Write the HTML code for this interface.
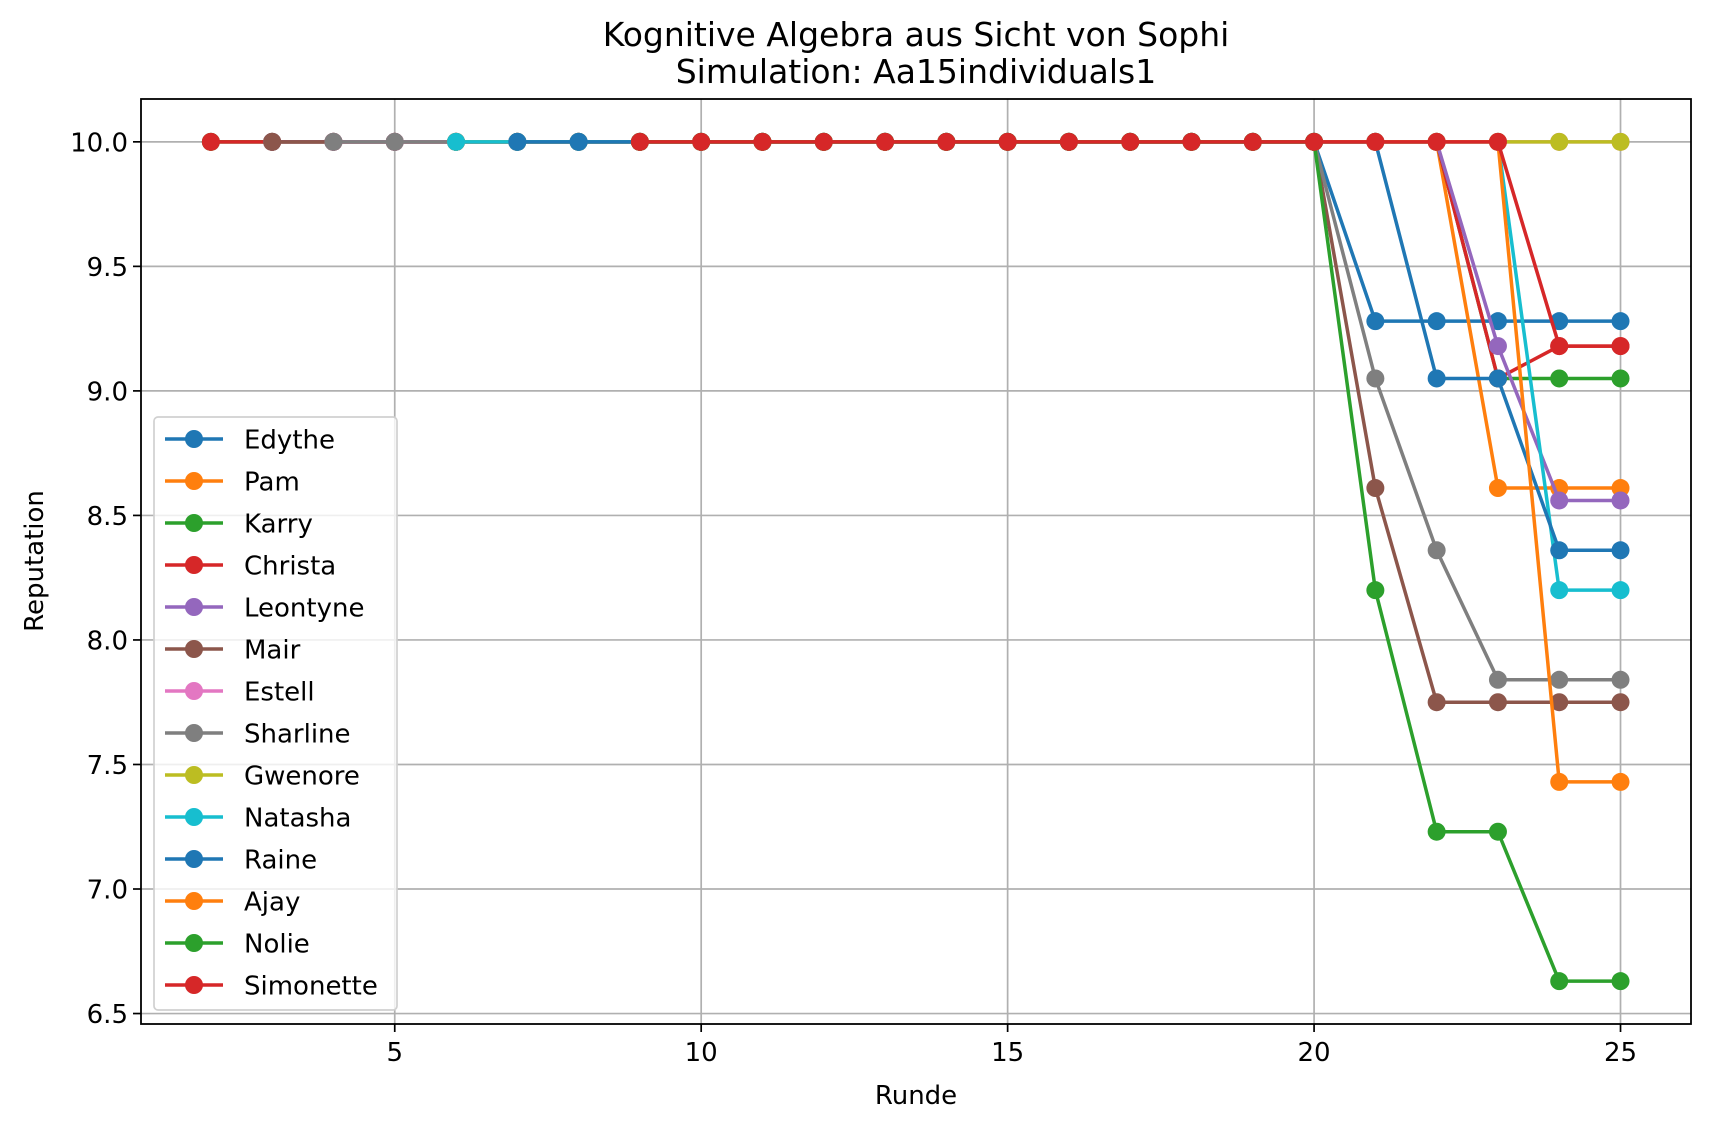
<!DOCTYPE html>
<html><head><meta charset="utf-8">
<style>
html,body{margin:0;padding:0;background:#fff;}
svg{display:block;font-family:"DejaVu Sans","Liberation Sans",sans-serif;}
</style></head>
<body>
<svg id="chart" width="1710" height="1131" viewBox="0 0 1710 1131" xmlns="http://www.w3.org/2000/svg">
<rect width="1710" height="1131" fill="#fff"/>
<text x="916" y="46" font-size="33" text-anchor="middle">Kognitive Algebra aus Sicht von Sophi</text>
<text x="916" y="83" font-size="33" text-anchor="middle">Simulation: Aa15individuals1</text>
<g id="grid"></g>
<g id="series"></g>
<rect x="141" y="99" width="1550" height="925" fill="none" stroke="#000" stroke-width="1.8"/>
<g id="ticks"></g>
<text x="916" y="1104" font-size="26" text-anchor="middle">Runde</text>
<text transform="translate(43,561) rotate(-90)" font-size="26" text-anchor="middle">Reputation</text>
<g id="legend"></g>
</svg>
<script>
const names = ["Edythe","Pam","Karry","Christa","Leontyne","Mair","Estell","Sharline","Gwenore","Natasha","Raine","Ajay","Nolie","Simonette"];
const colors = ["#1f77b4","#ff7f0e","#2ca02c","#d62728","#9467bd","#8c564b","#e377c2","#7f7f7f","#bcbd22","#17becf","#1f77b4","#ff7f0e","#2ca02c","#d62728"];
const startRound = [2,2,2,2,3,3,4,4,6,6,7,9,9,9];
// values for rounds 20..25 (before round 20 all are 10)
const tailEdythe = [10,9.28,9.28,9.28,9.28,9.28];
const tailPam = [10,10,10,8.61,8.61,8.61];
const tailKarry = [10,10,10,9.05,9.05,9.05];
const tailChrista = [10,10,10,9.05,9.18,9.18];
const tailLeontyne = [10,10,10,9.18,8.56,8.56];
const tailMair = [10,8.61,7.75,7.75,7.75,7.75];
const tailEstell = [10,10,10,10,10,10];
const tailSharline = [10,9.05,8.36,7.84,7.84,7.84];
const tailGwenore = [10,10,10,10,10,10];
const tailNatasha = [10,10,10,10,8.20,8.20];
const tailRaine = [10,10,9.05,9.05,8.36,8.36];
const tailAjay = [10,10,10,10,7.43,7.43];
const tailNolie = [10,8.20,7.23,7.23,6.63,6.63];
const tailSimonette = [10,10,10,10,9.18,9.18];
const tails = [tailEdythe,tailPam,tailKarry,tailChrista,tailLeontyne,tailMair,tailEstell,tailSharline,tailGwenore,tailNatasha,tailRaine,tailAjay,tailNolie,tailSimonette];
const xTicks = [5,10,15,20,25];
const yTicks = [6.5,7.0,7.5,8.0,8.5,9.0,9.5,10.0];
const yTickLabels = ["6.5","7.0","7.5","8.0","8.5","9.0","9.5","10.0"];

const L=141,R=1691,T=99,B=1024;
const xMin=0.86,xMax=26.15,yMin=6.458,yMax=10.172;
const X=v=>L+(v-xMin)/(xMax-xMin)*(R-L);
const Y=v=>B-(v-yMin)/(yMax-yMin)*(B-T);
const NS="http://www.w3.org/2000/svg";
function mk(tag,attrs,parent){const e=document.createElementNS(NS,tag);for(const k in attrs)e.setAttribute(k,attrs[k]);parent.appendChild(e);return e;}

const grid=document.getElementById('grid'), ticks=document.getElementById('ticks');
xTicks.forEach(v=>{
  const g=mk('line',{x1:X(v),x2:X(v),y1:T,y2:B,stroke:'#b0b0b0','stroke-width':1.7},grid);
  
  
  const t=mk('line',{x1:X(v),x2:X(v),y1:B,y2:B+8,stroke:'#000','stroke-width':1.7},ticks);
  
  
  const l=mk('text',{x:X(v),y:B+37,'font-size':26,'text-anchor':'middle'},ticks);
  l.textContent=String(v);
  
  
});
yTicks.forEach((v,i)=>{
  const g=mk('line',{x1:L,x2:R,y1:Y(v),y2:Y(v),stroke:'#b0b0b0','stroke-width':1.7},grid);
  
  
  const t=mk('line',{x1:L-8,x2:L,y1:Y(v),y2:Y(v),stroke:'#000','stroke-width':1.7},ticks);
  
  
  const l=mk('text',{x:L-13,y:Y(v)+9.5,'font-size':26,'text-anchor':'end'},ticks);
  l.textContent=yTickLabels[i];
  
  
});

const sg=document.getElementById('series');
names.forEach((n,i)=>{
  const pts=[];
  for(let r=startRound[i];r<=25;r++){
    const v = r<20 ? 10 : tails[i][r-20];
    pts.push([r,v]);
  }
  const g=mk('g',{},sg);
  
  
  const p=mk('polyline',{points:pts.map(p=>X(p[0])+','+Y(p[1])).join(' '),fill:'none',stroke:colors[i],'stroke-width':3.5,'stroke-linejoin':'round'},g);
  
  
  pts.forEach(q=>{
    const c=mk('circle',{cx:X(q[0]),cy:Y(q[1]),r:9,fill:colors[i]},g);
    
    
  });
});

const lg=document.getElementById('legend');
const box=mk('rect',{x:154,y:417,width:243,height:593,rx:4,fill:'#fff','fill-opacity':0.8,stroke:'#d0d0d0','stroke-width':1.7},lg);


names.forEach((n,i)=>{
  const y=439+i*42;
  const g=mk('g',{},lg);
  
  
  mk('line',{x1:165,x2:223,y1:y,y2:y,stroke:colors[i],'stroke-width':3.5},g);
  mk('circle',{cx:194,cy:y,r:9,fill:colors[i]},g);
  const t=mk('text',{x:244,y:y+9.5,'font-size':26},g);
  t.textContent=n;
});
</script>
</body></html>
